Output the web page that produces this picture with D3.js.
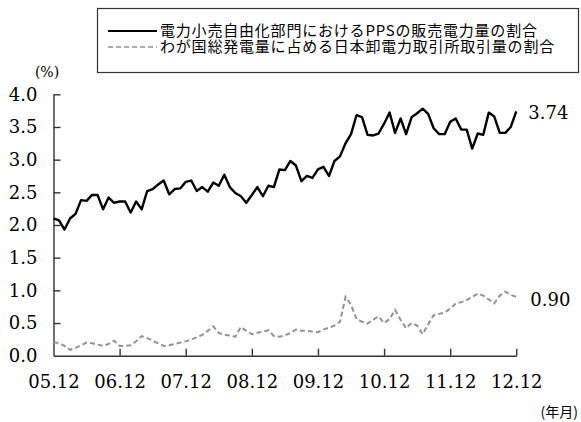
<!DOCTYPE html>
<html>
<head>
<meta charset="utf-8">
<script src="https://cdn.jsdelivr.net/npm/d3@7"></script>
<style>
  html, body { margin: 0; padding: 0; background: #fff; }
  svg { display: block; }
  .num { font-family: "DejaVu Serif", "Liberation Serif", serif; font-size: 18px; fill: #000; }
  .jp { font-family: "Noto Sans CJK JP", sans-serif; font-size: 15px; fill: #000; }
</style>
</head>
<body>
<svg id="chart" width="581" height="422"></svg>
<script>
// Monthly series, Dec 2005 (index 0) to Dec 2012 (index 84), in %
const ppsShare = [
  2.10, 2.07, 1.93, 2.10, 2.17, 2.38, 2.37, 2.46, 2.46, 2.24, 2.42, 2.34,
  2.36, 2.36, 2.19, 2.36, 2.24, 2.52, 2.55, 2.62, 2.68, 2.47, 2.55, 2.56,
  2.66, 2.68, 2.52, 2.58, 2.51, 2.65, 2.60, 2.77, 2.58, 2.49, 2.44, 2.34,
  2.46, 2.58, 2.44, 2.60, 2.58, 2.85, 2.84, 2.98, 2.91, 2.67, 2.75, 2.72,
  2.85, 2.89, 2.75, 2.98, 3.05, 3.25, 3.39, 3.68, 3.65, 3.38, 3.37, 3.40,
  3.55, 3.72, 3.41, 3.63, 3.39, 3.65, 3.71, 3.78, 3.70, 3.48, 3.39, 3.39,
  3.58, 3.63, 3.46, 3.46, 3.17, 3.40, 3.38, 3.72, 3.66, 3.41, 3.41, 3.50,
  3.74
];
const jepxShare = [
  0.21, 0.19, 0.15, 0.09, 0.12, 0.16, 0.20, 0.19, 0.17, 0.15, 0.18, 0.23,
  0.15, 0.15, 0.16, 0.22, 0.30, 0.27, 0.23, 0.19, 0.15, 0.16, 0.18, 0.20,
  0.22, 0.25, 0.28, 0.32, 0.38, 0.45, 0.35, 0.32, 0.31, 0.29, 0.44, 0.38,
  0.33, 0.35, 0.37, 0.39, 0.30, 0.29, 0.31, 0.35, 0.40, 0.38, 0.38, 0.37,
  0.36, 0.40, 0.43, 0.46, 0.52, 0.90, 0.78, 0.56, 0.52, 0.49, 0.55, 0.60,
  0.50, 0.56, 0.70, 0.55, 0.42, 0.50, 0.46, 0.33, 0.48, 0.62, 0.64, 0.66,
  0.72, 0.80, 0.82, 0.85, 0.90, 0.95, 0.92, 0.86, 0.80, 0.92, 0.98, 0.93,
  0.90
];
const xTickMonths = [0, 12, 24, 36, 48, 60, 72, 84];
const xTickLabels = ["05.12", "06.12", "07.12", "08.12", "09.12", "10.12", "11.12", "12.12"];
const yTicks = [0, 0.5, 1.0, 1.5, 2.0, 2.5, 3.0, 3.5, 4.0];
const legendLabels = [
  "電力小売自由化部門におけるPPSの販売電力量の割合",
  "わが国総発電量に占める日本卸電力取引所取引量の割合"
];

const svg = d3.select("#chart");

const x = d3.scaleLinear().domain([0, 84]).range([53.5, 516.3]);
const y = d3.scaleLinear().domain([0, 4]).range([355.7, 94.3]);

// Axes with inward ticks
const yAxis = d3.axisLeft(y)
  .tickValues(yTicks)
  .tickFormat(d3.format(".1f"))
  .tickSizeInner(-7)
  .tickSizeOuter(0)
  .tickPadding(16);

const xAxis = d3.axisBottom(x)
  .tickValues(xTickMonths)
  .tickFormat((d, i) => xTickLabels[i])
  .tickSizeInner(-7)
  .tickSizeOuter(0)
  .tickPadding(20);

const gy = svg.append("g").attr("transform", `translate(${x(0)},0)`).call(yAxis);
const gx = svg.append("g").attr("transform", `translate(0,${y(0)})`).call(xAxis);

[gx, gy].forEach(g => {
  g.select(".domain").attr("stroke", "#333").attr("stroke-width", 1.4);
  g.selectAll(".tick line").attr("stroke", "#333").attr("stroke-width", 1.4);
  g.selectAll(".tick text").attr("class", "num").attr("fill", "#000");
});
gy.selectAll(".tick line").filter(d => d === 0).remove();
gx.selectAll(".tick line").filter(d => d === 0).remove();

// Unit labels
svg.append("text").attr("class", "num").attr("x", 47).attr("y", 77)
  .attr("text-anchor", "middle").style("font-size", "14px").text("(%)");
svg.append("text").attr("class", "jp").attr("x", 578).attr("y", 417)
  .attr("text-anchor", "end").style("font-size", "14px").text("(年月)");

// Series lines
const line = d3.line().x((d, i) => x(i)).y(d => y(d));

svg.append("path").datum(jepxShare)
  .attr("d", line)
  .attr("fill", "none")
  .attr("stroke", "#939393")
  .attr("stroke-width", 2)
  .attr("stroke-dasharray", "5,3");

svg.append("path").datum(ppsShare)
  .attr("d", line)
  .attr("fill", "none")
  .attr("stroke", "#000")
  .attr("stroke-width", 2.4)
  .attr("stroke-linejoin", "round");

// End-of-series value labels
const last = ppsShare.length - 1;
svg.append("text").attr("class", "num")
  .attr("x", x(last) + 12).attr("y", y(ppsShare[last]) + 1)
  .attr("dy", "0.35em").text(ppsShare[last].toFixed(2));
svg.append("text").attr("class", "num")
  .attr("x", x(last) + 14).attr("y", y(jepxShare[last]) + 3)
  .attr("dy", "0.35em").text(jepxShare[last].toFixed(2));

// Legend
const lg = svg.append("g");
lg.append("rect")
  .attr("x", 97.5).attr("y", 8.5).attr("width", 481).attr("height", 64)
  .attr("fill", "#fff").attr("stroke", "#333").attr("stroke-width", 1.2);

const legendStyles = [
  { stroke: "#000", width: 2.2, dash: null },
  { stroke: "#939393", width: 1.6, dash: "5,3" }
];
legendLabels.forEach((label, i) => {
  const cy = 31 + i * 16;
  lg.append("line")
    .attr("x1", 108).attr("x2", 157).attr("y1", cy).attr("y2", cy)
    .attr("stroke", legendStyles[i].stroke)
    .attr("stroke-width", legendStyles[i].width)
    .attr("stroke-dasharray", legendStyles[i].dash);
  lg.append("text").attr("class", "jp")
    .attr("x", 160).attr("y", cy).attr("dy", "0.36em")
    .style("letter-spacing", "0.8px").text(label);
});
</script>
</body>
</html>
